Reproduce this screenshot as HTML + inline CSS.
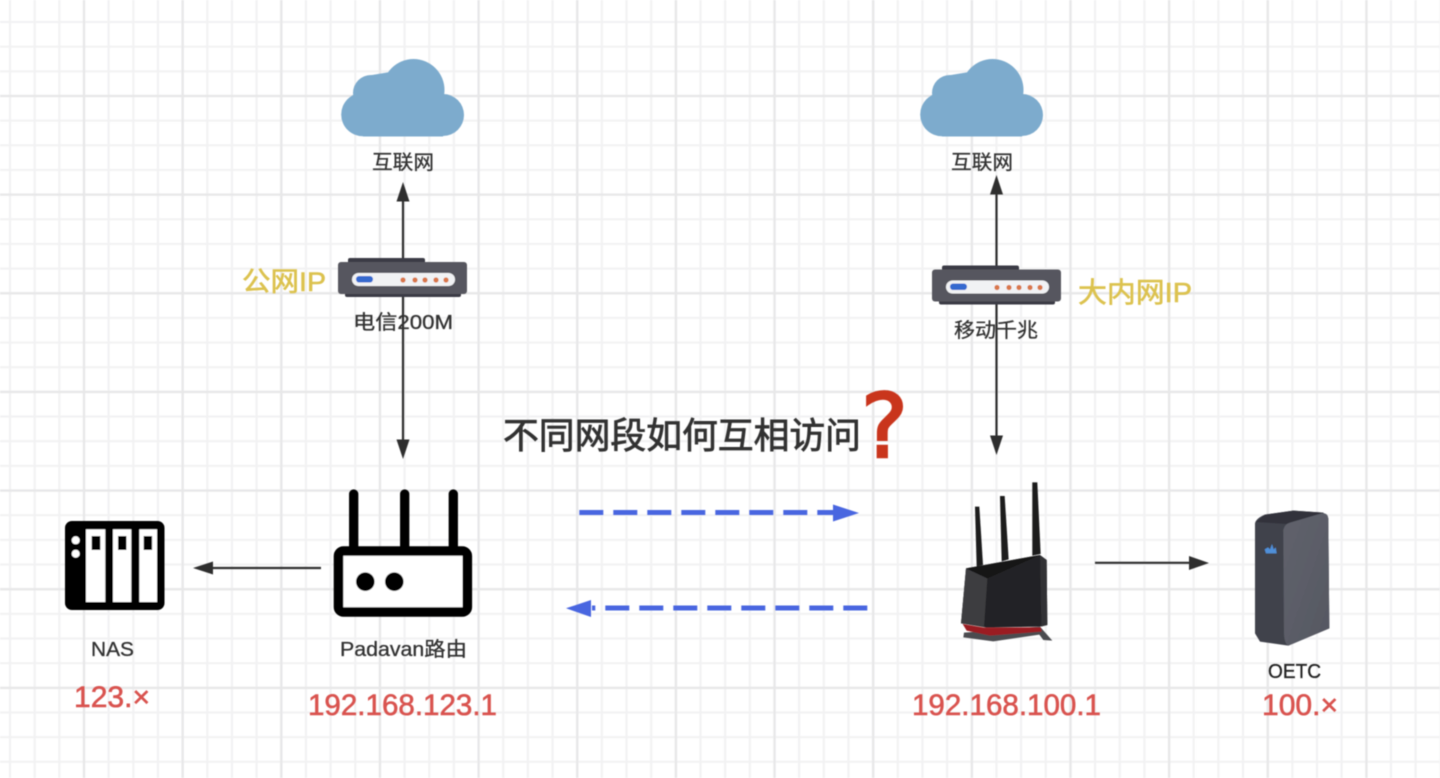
<!DOCTYPE html>
<html lang="zh"><head><meta charset="utf-8"><title>不同网段如何互相访问</title>
<style>
html,body{margin:0;padding:0;background:#fff;width:1440px;height:778px;overflow:hidden}
svg{display:block}
text{font-family:"Liberation Sans","Noto Sans CJK SC",sans-serif}
</style></head><body>
<svg width="1440" height="778" viewBox="0 0 1440 778" xmlns="http://www.w3.org/2000/svg">
<defs>
<pattern id="minor" width="24.66" height="24.66" patternUnits="userSpaceOnUse" patternTransform="translate(-19.65 -7.65)">
<path d="M5 0V24.66M0 5H24.66" stroke="#f2f2f3" stroke-width="2.2" fill="none"/>
</pattern>
<pattern id="major" width="98.65" height="98.65" patternUnits="userSpaceOnUse" patternTransform="translate(-19.65 -7.65)">
<path d="M5 0V98.65M0 5H98.65" stroke="#e7e7e8" stroke-width="2.2" fill="none"/>
</pattern>
<filter id="s" x="-5%" y="-5%" width="110%" height="110%"><feGaussianBlur stdDeviation="0.45"/></filter>
<filter id="g" x="0" y="0" width="100%" height="100%"><feGaussianBlur stdDeviation="0.6"/></filter>
<linearGradient id="oe" x1="0" y1="0" x2="1" y2="1"><stop offset="0" stop-color="#60626c"/><stop offset="1" stop-color="#565862"/></linearGradient>
<g id="modem">
<rect x="348" y="258" width="77" height="8" rx="2" fill="#3a3a44"/>
<rect x="345" y="288" width="116" height="9" rx="2" fill="#3a3a44"/>
<rect x="338" y="262" width="129" height="32" rx="3" fill="#56565e"/>
<rect x="352" y="273" width="103" height="13" rx="6.5" fill="#f1f2f4"/>
<rect x="356" y="276" width="17" height="6.5" rx="3.2" fill="#3569cf"/>
<g fill="#d9774a"><circle cx="403" cy="280" r="2.6"/><circle cx="415" cy="280" r="2.6"/><circle cx="425" cy="280" r="2.6"/><circle cx="436" cy="280" r="2.6"/><circle cx="446" cy="280" r="2.6"/></g>
</g>
<g id="cloud" fill="#7dabcd">
<circle cx="413.5" cy="90" r="31"/>
<circle cx="371" cy="93" r="18"/>
<circle cx="363" cy="114.5" r="21.8"/>
<circle cx="443" cy="115" r="21"/>
<rect x="363" y="95" width="80" height="41.5"/>
<path d="M356 95L372 75L390 72V100Z"/>
</g>
</defs>
<rect width="1440" height="778" fill="#fff"/>
<g filter="url(#g)">
<rect width="1440" height="778" fill="url(#minor)"/>
<rect width="1440" height="778" fill="url(#major)"/>
</g>
<g filter="url(#s)">
<!-- clouds -->
<use href="#cloud"/>
<use href="#cloud" x="579"/>

<!-- connector lines -->
<g stroke="#2f2f2f" stroke-width="2.2" fill="none">
<path d="M403 198V442"/>
<path d="M996.5 194V438"/>
<path d="M321 568H210"/>
<path d="M1095 562.8H1192"/>
</g>
<g fill="#2f2f2f">
<path d="M403 182L409.5 201.5H396.5Z"/>
<path d="M403 459L396.5 439.5H409.5Z"/>
<path d="M996.5 175L1003 194.5H990Z"/>
<path d="M996.5 455L990 435.5H1003Z"/>
<path d="M193 568L213 561.5V574.5Z"/>
<path d="M1209 563L1189 556V570Z"/>
</g>

<!-- modems -->
<use href="#modem"/>
<use href="#modem" x="594" y="7.5"/>

<!-- blue dashed arrows -->
<path d="M579.3 512.5H836" stroke="#4a66e0" stroke-width="5" stroke-dasharray="24 10" fill="none"/>
<path d="M859 513L833 504.5V521.5Z" fill="#4a66e0"/>
<path d="M867.3 608H592" stroke="#4a66e0" stroke-width="5" stroke-dasharray="24 10" fill="none"/>
<path d="M566 608.3L591 600V617Z" fill="#4a66e0"/>

<!-- NAS -->
<rect x="65" y="521" width="99.5" height="89" rx="7" fill="#000"/>
<g fill="#fff">
<rect x="86" y="529.3" width="19.3" height="72.7"/>
<rect x="113" y="529.3" width="18.3" height="72.7"/>
<rect x="139.3" y="529.3" width="17.7" height="72.7"/>
<circle cx="75.7" cy="540.3" r="4"/>
<circle cx="75.7" cy="553.7" r="4"/>
</g>
<rect x="91.7" y="536" width="8.6" height="14"/>
<rect x="118" y="536" width="8.4" height="14"/>
<rect x="143.7" y="536" width="8.4" height="14"/>

<!-- Padavan router -->
<g stroke="#000" stroke-width="9.3" stroke-linecap="round" fill="none">
<path d="M353.7 494V550"/>
<path d="M404.7 494V550"/>
<path d="M453.3 494V550"/>
</g>
<rect x="338.5" y="551" width="128.8" height="61" rx="5" fill="#fff" stroke="#000" stroke-width="9.6"/>
<circle cx="365.3" cy="581.7" r="9.3"/>
<circle cx="394.3" cy="581.7" r="9.3"/>

<!-- ASUS router -->
<g transform="translate(950 470) scale(.3333)">
<path d="M75 110H88L99 285L80 290Z" fill="#1b1b1d"/>
<path d="M150 78H164L176 268L155 274Z" fill="#1b1b1d"/>
<path d="M247 37H262L272 252L247 257Z" fill="#1b1b1d"/>
<path d="M42 488L270 470L307 512L280 510L268 494L130 514L40 502Z" fill="#4c4c50"/>
<path d="M48 295L270 255L290 270L292 465L270 470L110 473L33 460Z" fill="#232325"/>
<path d="M48 295L112 325L102 470L33 460Z" fill="#3e3e41"/>
<path d="M48 295L270 255L112 325Z" fill="#121214"/>
<path d="M270 255L290 270L292 465L274 470Z" fill="#333336"/>
<path d="M38 462L102 473L272 472L275 485L120 497L50 482Z" fill="#9a1c20"/>
</g>

<!-- OETC device -->
<g transform="translate(1240 500) scale(.3333)">
<path d="M45 70Q48 55 75 44L160 32L250 38L265 55L268 385L145 437L60 425L45 400Z" fill="#41434c"/>
<path d="M75 44L160 32L250 38L140 72L48 66Z" fill="#30313a"/>
<path d="M130 90Q134 72 150 68L245 40Q265 38 265 58L268 385L145 437Q133 430 132 400Z" fill="url(#oe)"/>
<path d="M74 148L84 142L90 148L96 132L101 148L107 142L110 160H78Z" fill="#4f8fd8"/>
</g>

<!-- labels -->
<g fill="#333" stroke="#333" stroke-width=".3" font-size="20">
<text x="372" y="169" textLength="62" lengthAdjust="spacingAndGlyphs">互联网</text>
<text x="951" y="169" textLength="62" lengthAdjust="spacingAndGlyphs">互联网</text>
<text x="353" y="329" textLength="100" lengthAdjust="spacingAndGlyphs">电信200M</text>
<text x="954" y="337" textLength="84" lengthAdjust="spacingAndGlyphs">移动千兆</text>
<text x="91" y="656" textLength="43" lengthAdjust="spacingAndGlyphs">NAS</text>
<text x="340" y="656" textLength="127" lengthAdjust="spacingAndGlyphs">Padavan路由</text>
<text x="1268" y="678" textLength="53" lengthAdjust="spacingAndGlyphs" fill="#222" stroke="#222">OETC</text>
</g>
<g fill="#dcc24f" stroke="#dcc24f" stroke-width=".6">
<text x="242" y="291" font-size="27" textLength="84" lengthAdjust="spacingAndGlyphs">公网IP</text>
<text x="1078" y="302" font-size="28" textLength="114" lengthAdjust="spacingAndGlyphs">大内网IP</text>
</g>
<text x="503" y="448" font-size="36" fill="#333" stroke="#333" stroke-width=".8" textLength="358" lengthAdjust="spacingAndGlyphs">不同网段如何互相访问</text>
<text x="861" y="457" font-size="88" fill="#c9351f" stroke="#c9351f" stroke-width="2.5" style="font-family:'DejaVu Sans',sans-serif" textLength="47" lengthAdjust="spacingAndGlyphs">?</text>
<g fill="#d9534f" stroke="#d9534f" stroke-width=".6" font-size="30">
<text x="74" y="707" textLength="76" lengthAdjust="spacingAndGlyphs">123.×</text>
<text x="308" y="715" textLength="189" lengthAdjust="spacingAndGlyphs">192.168.123.1</text>
<text x="912" y="715" textLength="189" lengthAdjust="spacingAndGlyphs">192.168.100.1</text>
<text x="1262" y="715" textLength="76" lengthAdjust="spacingAndGlyphs">100.×</text>
</g>
</g>
</svg>
</body></html>
